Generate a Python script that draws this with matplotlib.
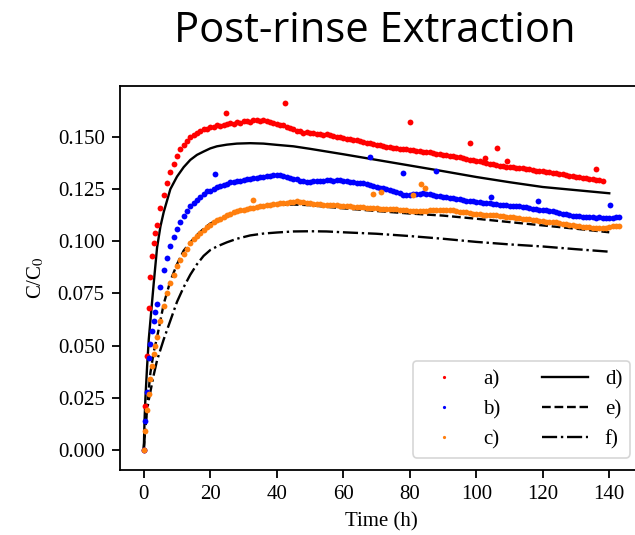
import numpy as np
import matplotlib
matplotlib.use('Agg')
import matplotlib.pyplot as plt

# measured series a), b), c): half-hour steps to 4 h, then hourly
t_early = [0, 0.5, 1, 1.5, 2, 2.5, 3, 3.5, 4]

a_vals = [0, 0.021, 0.045, 0.068, 0.083, 0.093, 0.099, 0.104, 0.108,
          0.116, 0.122, 0.128, 0.133, 0.137,
          0.141, 0.144, 0.146, 0.148, 0.150, 0.151, 0.152, 0.1528, 0.1536, 0.1538,
          0.1546, 0.1549, 0.1555, 0.1552, 0.1558, 0.1561, 0.1565, 0.1563, 0.1570, 0.1568,
          0.1574, 0.1577, 0.1573, 0.1580, 0.1583, 0.1578, 0.1581, 0.1574, 0.1570, 0.1566,
          0.1561, 0.1557, 0.1556, 0.1549, 0.1543, 0.1536, 0.1527, 0.1529, 0.1521, 0.1524,
          0.1517, 0.1520, 0.1514, 0.1516, 0.1511, 0.1513, 0.1508, 0.1504, 0.1501, 0.1498,
          0.1496, 0.1492, 0.1490, 0.1487, 0.1484, 0.1481, 0.1478, 0.1473, 0.1469, 0.1465,
          0.1461, 0.1459, 0.1455, 0.1453, 0.1450, 0.1448, 0.1446, 0.1443, 0.1441, 0.1440,
          0.1437, 0.1436, 0.1434, 0.1433, 0.1430, 0.1429, 0.1427, 0.1423, 0.1420, 0.1418,
          0.1415, 0.1412, 0.1410, 0.1407, 0.1404, 0.1402, 0.1399, 0.1394, 0.1391, 0.1388,
          0.1385, 0.1383, 0.1379, 0.1374, 0.1371, 0.1368, 0.1365, 0.1362, 0.1360, 0.1358,
          0.1357, 0.1354, 0.1352, 0.1350, 0.1349, 0.1346, 0.1344, 0.1342, 0.1339, 0.1337,
          0.1335, 0.1332, 0.1330, 0.1327, 0.1325, 0.1322, 0.1320, 0.1317, 0.1315, 0.1312,
          0.1310, 0.1307, 0.1304, 0.1302, 0.1299, 0.1296, 0.1294, 0.1292, 0.1290]

b_vals = [0, 0.014, 0.028, 0.044, 0.051, 0.057, 0.062, 0.066, 0.070,
          0.078, 0.086, 0.092, 0.0975, 0.102,
          0.106, 0.109, 0.112, 0.1145, 0.1167, 0.1182, 0.1198, 0.1213, 0.1228, 0.1239,
          0.1243, 0.1252, 0.1258, 0.1263, 0.1270, 0.1274, 0.1283, 0.1286, 0.1291, 0.1289,
          0.1295, 0.1299, 0.1297, 0.1302, 0.1304, 0.1307, 0.1310, 0.1313, 0.1311, 0.1317,
          0.1319, 0.1316, 0.1311, 0.1306, 0.1302, 0.1299, 0.1296, 0.1291, 0.1288, 0.1286,
          0.1284, 0.1287, 0.1289, 0.1291, 0.1288, 0.1292, 0.1294, 0.1291, 0.1295, 0.1293,
          0.1290, 0.1288, 0.1285, 0.1283, 0.1280, 0.1279, 0.1277, 0.1273, 0.1270, 0.1265,
          0.1261, 0.1257, 0.1254, 0.1249, 0.1245, 0.1240, 0.1235, 0.1229, 0.1224, 0.1221,
          0.1220, 0.1225, 0.1228, 0.1227, 0.1229, 0.1226, 0.1225, 0.1222, 0.1219, 0.1216,
          0.1213, 0.1211, 0.1208, 0.1206, 0.1204, 0.1202, 0.1199, 0.1195, 0.1192, 0.1191,
          0.1189, 0.1187, 0.1185, 0.1183, 0.1181, 0.1180, 0.1178, 0.1176, 0.1174, 0.1172,
          0.1170, 0.1169, 0.1168, 0.1167, 0.1165, 0.1162, 0.1160, 0.1157, 0.1155, 0.1152,
          0.1150, 0.1148, 0.1146, 0.1143, 0.1140, 0.1137, 0.1133, 0.1130, 0.1127, 0.1123,
          0.1120, 0.1119, 0.1118, 0.1117, 0.1116, 0.1114, 0.1113, 0.1115, 0.1112, 0.1110,
          0.1112, 0.1113, 0.1114, 0.1115]

c_vals = [0, 0.009, 0.019, 0.027, 0.034, 0.040, 0.046, 0.050, 0.054,
          0.062, 0.069, 0.075, 0.080, 0.084,
          0.088, 0.091, 0.094, 0.0965, 0.099, 0.101, 0.1025, 0.104, 0.1055, 0.1068,
          0.108, 0.109, 0.110, 0.1108, 0.1117, 0.1125, 0.1133, 0.1139, 0.1144, 0.1148,
          0.1151, 0.1155, 0.1158, 0.1161, 0.1165, 0.1168, 0.1170, 0.1173, 0.1175, 0.1177,
          0.1178, 0.1181, 0.1182, 0.1185, 0.1187, 0.1190, 0.1191, 0.1188, 0.1186, 0.1183,
          0.1181, 0.1179, 0.1178, 0.1177, 0.1176, 0.1176, 0.1175, 0.1173, 0.1172, 0.1171,
          0.1170, 0.1169, 0.1168, 0.1166, 0.1165, 0.1164, 0.1163, 0.1161, 0.1160, 0.1159,
          0.1158, 0.1157, 0.1156, 0.1156, 0.1155, 0.1154, 0.1154, 0.1152, 0.1150, 0.1148,
          0.1147, 0.1146, 0.1145, 0.1144, 0.1143, 0.1145, 0.1148, 0.1150, 0.1151, 0.1152,
          0.1152, 0.1151, 0.1150, 0.1148, 0.1145, 0.1142, 0.1140, 0.1138, 0.1135, 0.1132,
          0.1130, 0.1129, 0.1128, 0.1127, 0.1126, 0.1125, 0.1124, 0.1122, 0.1120, 0.1117,
          0.1115, 0.1114, 0.1112, 0.1110, 0.1108, 0.1106, 0.1105, 0.1102, 0.1100, 0.1097,
          0.1095, 0.1093, 0.1092, 0.1091, 0.1090, 0.1087, 0.1085, 0.1082, 0.1080, 0.1077,
          0.1075, 0.1072, 0.1070, 0.1068, 0.1067, 0.1065, 0.1064, 0.1063, 0.1062, 0.1065,
          0.1070, 0.1072, 0.1074, 0.1072]

# stray points off the main band
a_out_t = [24.8, 42.6, 80.2, 98.2, 102.7, 106.2, 109.3, 136.0]
a_out_v = [0.1617, 0.1662, 0.1570, 0.1470, 0.1400, 0.1446, 0.1385, 0.1345]
b_out_t = [21.4, 68.0, 77.9, 88.0, 104.4, 118.7, 140.2]
b_out_v = [0.1323, 0.1403, 0.1326, 0.1336, 0.1211, 0.1194, 0.1175]
c_out_t = [32.8, 69.0, 71.4, 81.0, 83.3, 84.5]
c_out_v = [0.1196, 0.1226, 0.1237, 0.1222, 0.1275, 0.1254]

# model curves d), e), f)
t_model = [0, 0.25, 0.5, 1, 1.5, 2, 3, 4, 5, 6, 8, 10, 12, 14, 16, 18, 20, 22, 25,
           28, 32, 36, 40, 45, 50, 55, 60, 70, 80, 90, 100, 110, 120, 130, 140]
d_vals = [0, 0.015, 0.025, 0.040, 0.053, 0.062, 0.080, 0.097, 0.107, 0.114, 0.125,
          0.131, 0.1355, 0.139, 0.1414, 0.143, 0.1445, 0.1455, 0.1463, 0.1468, 0.1470,
          0.1468, 0.1462, 0.1455, 0.1443, 0.1430, 0.1417, 0.1390, 0.1363, 0.1336,
          0.1308, 0.1283, 0.1260, 0.1245, 0.1230]
e_vals = [0, 0.007, 0.012, 0.021, 0.029, 0.037, 0.047, 0.054, 0.062, 0.070, 0.081,
          0.089, 0.0955, 0.0995, 0.103, 0.106, 0.1085, 0.1100, 0.1120, 0.1138, 0.1155,
          0.1168, 0.1174, 0.1176, 0.1173, 0.1165, 0.1158, 0.1145, 0.1133, 0.1123,
          0.1108, 0.1092, 0.1076, 0.1060, 0.1043]
f_vals = [0, 0.006, 0.011, 0.019, 0.024, 0.028, 0.036, 0.043, 0.048, 0.053, 0.062,
          0.071, 0.078, 0.084, 0.089, 0.093, 0.0958, 0.0975, 0.0995, 0.1012, 0.1028,
          0.1037, 0.1042, 0.1047, 0.1048, 0.1047, 0.1043, 0.1036, 0.1025, 0.1012,
          0.0997, 0.0985, 0.0975, 0.0962, 0.0950]

labels = ['a)', 'b)', 'c)', 'd)', 'e)', 'f)']
colors = ['#ff0000', '#0000ff', '#ff7f0e']

t_grid = t_early + list(range(5, 144))

plt.rcParams['font.family'] = ['Liberation Serif', 'DejaVu Serif']
plt.rcParams['mathtext.fontset'] = 'stix'

fig = plt.figure(figsize=(6.35, 5.35), dpi=100)
ax = fig.add_axes([120 / 635, 65 / 535, 523 / 635, 384 / 535])

series = [(a_vals, a_out_t, a_out_v), (b_vals, b_out_t, b_out_v), (c_vals, c_out_t, c_out_v)]
for (vals, ot, ov), col, lab in zip(series, colors, labels[:3]):
    tt = list(t_grid[:len(vals)]) + ot
    vv = list(vals) + ov
    ax.plot(tt, vv, 'o', color=col, ms=4.2, mew=0, label=lab, zorder=3)

ax.plot(t_model, d_vals, '-', color='black', lw=1.7, label=labels[3], zorder=2)
ax.plot(t_model, e_vals, '--', color='black', lw=1.7, label=labels[4], zorder=2)
ax.plot(t_model, f_vals, '-.', color='black', lw=1.7, label=labels[5], zorder=2)

ax.set_xlim(-7.15, 150.15)
ax.set_ylim(-0.0096, 0.1744)
ax.set_xticks(range(0, 141, 20))
ax.set_yticks([0, 0.025, 0.05, 0.075, 0.1, 0.125, 0.15])
ax.set_yticklabels([f'{v:.3f}' for v in [0, 0.025, 0.05, 0.075, 0.1, 0.125, 0.15]])
ax.tick_params(labelsize=15, length=6, width=1.3, pad=5)
for s in ax.spines.values():
    s.set_linewidth(1.3)

ax.set_xlabel('Time (h)', fontsize=15, labelpad=6)
ax.set_ylabel('C/C$_0$', fontsize=15, labelpad=8)

leg = ax.legend(ncol=2, loc='lower right', fontsize=15, markerscale=0.55,
                handlelength=2.2, columnspacing=2.0, borderaxespad=0.6)
leg.get_frame().set_linewidth(1.2)

fig.text(375 / 635, 1 - 42 / 535, 'Post-rinse Extraction', family='Open Sans',
         fontsize=30, ha='center', va='baseline')

fig.savefig('out.png', dpi=100)
